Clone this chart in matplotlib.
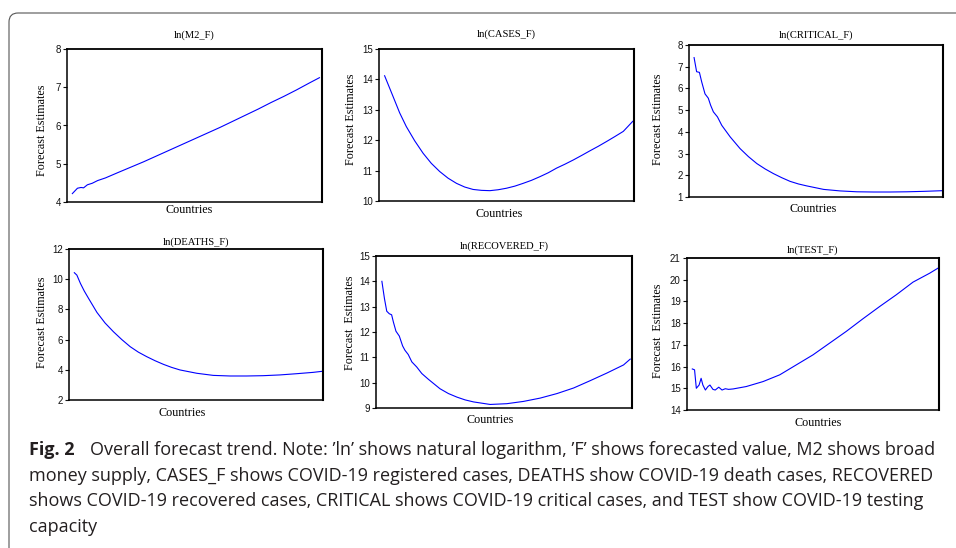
import matplotlib
matplotlib.use('Agg')
import matplotlib.pyplot as plt
from matplotlib.patches import FancyBboxPatch
from matplotlib.transforms import IdentityTransform

plt.rcParams['font.family'] = 'Liberation Sans'

# x = position along the (unlabelled) country axis, 0-100
m2_x = [2.1, 4.1, 5.5, 6.5, 8.0, 9.9, 12.0, 15.1, 20, 25, 30, 35, 40, 45, 50, 55, 60,
        65, 70, 75, 80, 85, 90, 95, 99]
m2_y = [4.22, 4.36, 4.38, 4.37, 4.45, 4.49, 4.56, 4.63, 4.77, 4.91, 5.05, 5.20, 5.35,
        5.50, 5.65, 5.80, 5.95, 6.11, 6.27, 6.43, 6.60, 6.76, 6.93, 7.11, 7.25]

cases_x = [2.2, 5.5, 8.1, 10.7, 14.0, 17.3, 20.5, 23.8, 27.1, 30.4, 33.6, 36.9, 40.2,
           43.5, 46.7, 50.0, 53.3, 56.5, 59.8, 63.1, 66.4, 69.6, 72.9, 76.2, 79.5,
           82.7, 86.0, 89.3, 92.5, 95.8, 99.5]
cases_y = [14.12, 13.44, 12.90, 12.45, 11.98, 11.57, 11.24, 10.97, 10.75, 10.58, 10.46,
           10.38, 10.35, 10.34, 10.37, 10.42, 10.49, 10.58, 10.68, 10.80, 10.93, 11.08,
           11.21, 11.35, 11.50, 11.65, 11.80, 11.96, 12.12, 12.29, 12.62]

critical_x = [2.0, 3.0, 4.1, 5.0, 6.3, 7.6, 8.5, 9.6, 11.2, 12.9, 16.2, 20.1, 23.4,
              26.7, 30.0, 33.2, 36.5, 39.8, 43.1, 46.4, 53.0, 59.5, 66.1, 72.7, 79.2,
              85.8, 92.4, 99.6]
critical_y = [7.42, 6.77, 6.74, 6.30, 5.75, 5.55, 5.23, 4.92, 4.69, 4.30, 3.77, 3.23,
              2.86, 2.54, 2.29, 2.08, 1.89, 1.72, 1.60, 1.51, 1.35, 1.28, 1.24, 1.23,
              1.23, 1.24, 1.26, 1.29]

deaths_x = [2.1, 3.1, 4.5, 6.0, 7.7, 11.0, 14.2, 17.5, 20.8, 24.1, 27.3, 30.6, 33.9,
            37.2, 40.4, 43.7, 50.3, 56.8, 63.4, 69.9, 76.4, 83.0, 89.5, 96.1, 99.7]
deaths_y = [10.43, 10.27, 9.72, 9.22, 8.73, 7.80, 7.10, 6.52, 6.00, 5.53, 5.17, 4.87,
            4.60, 4.36, 4.16, 3.99, 3.77, 3.63, 3.59, 3.59, 3.61, 3.66, 3.74, 3.83, 3.90]

recovered_x = [2.3, 3.3, 4.2, 5.2, 6.1, 6.8, 7.8, 9.1, 10.4, 11.3, 12.6, 14.0, 15.9,
               17.9, 20.5, 25.0, 28.3, 31.6, 34.8, 38.1, 44.6, 51.1, 57.6, 64.1, 70.7,
               77.2, 83.7, 90.2, 96.7, 99.3]
recovered_y = [14.00, 13.32, 12.82, 12.72, 12.68, 12.39, 12.03, 11.84, 11.45, 11.28,
               11.11, 10.82, 10.62, 10.36, 10.13, 9.76, 9.57, 9.43, 9.32, 9.24, 9.14,
               9.17, 9.26, 9.39, 9.57, 9.79, 10.08, 10.38, 10.70, 10.93]

test_x = [2.1, 3.0, 3.7, 4.8, 5.6, 6.3, 7.3, 8.3, 9.1, 10.3, 11.2, 12.6, 13.9, 15.2,
          16.5, 18.3, 23.5, 30.2, 36.8, 43.4, 50.0, 56.6, 63.2, 69.8, 76.5, 83.1,
          89.7, 96.3, 99.7]
test_y = [15.89, 15.85, 15.00, 15.15, 15.46, 15.15, 14.92, 15.08, 15.15, 14.95, 14.92,
          15.05, 14.92, 14.98, 14.95, 14.97, 15.08, 15.31, 15.62, 16.08, 16.54, 17.08,
          17.62, 18.20, 18.77, 19.31, 19.89, 20.30, 20.54]

titles = ['ln(M2_F)', 'ln(CASES_F)', 'ln(CRITICAL_F)',
          'ln(DEATHS_F)', 'ln(RECOVERED_F)', 'ln(TEST_F)']
ylabels = ['Forecast Estimates', 'Forecast Estimates', 'Forecast Estimates',
           'Forecast Estimates', 'Forecast  Estimates', 'Forecast  Estimates']
y_ranges = [(4, 8, 1), (10, 15, 1), (1, 8, 1), (2, 12, 2), (9, 15, 1), (14, 21, 1)]
series = [(m2_x, m2_y), (cases_x, cases_y), (critical_x, critical_y),
          (deaths_x, deaths_y), (recovered_x, recovered_y), (test_x, test_y)]

caption_lines = [
    'Overall forecast trend. Note: \u2019ln\u2019 shows natural logarithm, \u2019F\u2019 shows forecasted value, M2 shows broad',
    'money supply, CASES_F shows COVID-19 registered cases, DEATHS show COVID-19 death cases, RECOVERED',
    'shows COVID-19 recovered cases, CRITICAL shows COVID-19 critical cases, and TEST show COVID-19 testing',
    'capacity',
]

W, H = 956, 548
fig = plt.figure(figsize=(W / 100, H / 100), dpi=100)

# pixel boxes (left, top, right, bottom) and label placement
boxes = [(67, 49, 322, 202), (379, 49, 634, 201), (689, 45, 943, 197),
         (69, 249, 323, 400), (376, 256, 632, 408), (687, 258, 939, 410)]
title_gap = [9, 10, 5, 2, 5, 3]
xlab_x = [0.48, 0.47, 0.49, 0.445, 0.445, 0.52]
xlab_gap = [2, 7, 6, 7, 6, 7]
ylab_cx = [42, 351, 658, 42, 350, 658]
ylab_cy = [130, 119, 119, 322, 323, 331]

serif = 'Liberation Serif'
for i in range(6):
    l, t, r, b = boxes[i]
    ax = fig.add_axes([l / W, 1 - b / H, (r - l) / W, (b - t) / H])
    x, y = series[i]
    ax.plot(x, y, color='#0000ff', linewidth=0.8)
    lo, hi, step = y_ranges[i]
    ax.set_xlim(0, 100)
    ax.set_ylim(lo, hi)
    ax.set_yticks(list(range(lo, hi + 1, step)))
    ax.set_xticks([])
    ax.tick_params(axis='y', direction='out', length=3, width=0.8, pad=1.5,
                   labelsize=7, colors='#111111')
    for sp in ax.spines.values():
        sp.set_linewidth(1.1)
    ax.spines['right'].set_linewidth(1.5)
    ax.spines['top'].set_linewidth(1.3)
    ax.set_title(titles[i], fontsize=7.6, family=serif, pad=(title_gap[i] + 2) * 0.72)
    ax.set_xlabel('Countries', fontsize=8.7, family=serif)
    ax.xaxis.set_label_coords(xlab_x[i], -xlab_gap[i] / (b - t))
    ax.set_ylabel(ylabels[i], fontsize=8.7, family=serif)
    ax.yaxis.set_label_coords((ylab_cx[i] + 6 - l) / (r - l), (b - ylab_cy[i]) / (b - t))

# rounded frame around the figure
frame = FancyBboxPatch((9, -60), 1100, H - 13 + 60,
                       boxstyle='round,pad=0,rounding_size=9',
                       transform=IdentityTransform(), facecolor='none',
                       edgecolor='#555555', linewidth=0.8)
fig.add_artist(frame)

cap_font = ['Open Sans', 'DejaVu Sans']
cap_size = 13.0
baselines = [455, 480.7, 506.3, 532]
fig.text(29 / W, 1 - baselines[0] / H, 'Fig. 2', fontsize=cap_size, fontweight='bold',
         family=cap_font, va='baseline', color='#231f20')
fig.text(90 / W, 1 - baselines[0] / H, caption_lines[0], fontsize=cap_size,
         family=cap_font, va='baseline', color='#231f20')
for k in range(1, 4):
    fig.text(29 / W, 1 - baselines[k] / H, caption_lines[k], fontsize=cap_size,
             family=cap_font, va='baseline', color='#231f20')

fig.savefig('out.png', dpi=100)
